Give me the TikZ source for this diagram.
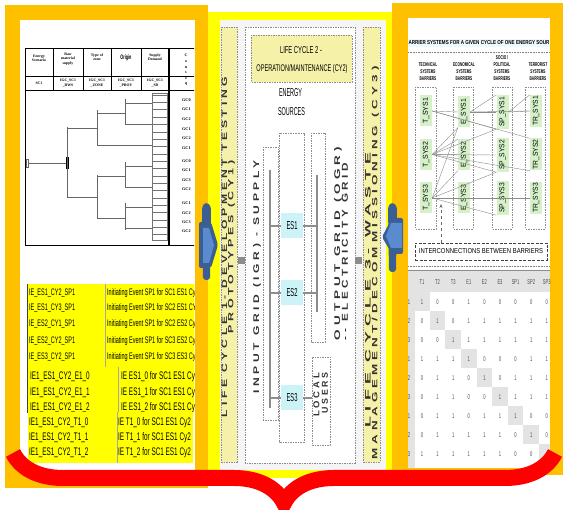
\documentclass[tikz,border=0pt]{standalone}
\usepackage{fontspec}
\setmainfont{Liberation Serif}
\setsansfont{Liberation Sans}
\newfontfamily\narrowfont[FakeStretch=0.58]{Liberation Sans}
\newfontfamily\spacedfont[LetterSpace=30]{Liberation Sans}
\usepackage{graphicx}
\usetikzlibrary{calc,positioning,arrows.meta,decorations.pathreplacing}

\definecolor{frameorange}{HTML}{FFC000}
\definecolor{frameyellow}{HTML}{FFFF00}
\definecolor{bracered}{HTML}{FF0000}
\definecolor{arrowdark}{HTML}{3B5F95}
\definecolor{arrowlight}{HTML}{5A8BCF}
\definecolor{stripyellow}{HTML}{F6F1A8}
\definecolor{escyan}{HTML}{CCF3F8}
\definecolor{barriergreen}{HTML}{D6F1CA}
\definecolor{cellgray}{HTML}{E3E3E3}

\newcommand{\fitlabel}[3]{\resizebox{#1}{#2}{#3}}

\begin{document}
\begin{tikzpicture}[x=1pt,y=-1pt,
    dashbox/.style={draw=black!45, dash pattern=on 1.5pt off 1pt, line width=0.5pt},
    stripbox/.style={dashbox, fill=stripyellow},
    gridline/.style={draw=black!45, line width=1.6pt},
    treeline/.style={draw=black!60, line width=0.7pt},
    headtext/.style={inner sep=0pt, align=center, font=\bfseries\fontsize{3.8}{4.3}\selectfont},
    tabsmall/.style={inner sep=0pt, anchor=west, font=\narrowfont\fontsize{9.5}{10}\selectfont},
    tabbig/.style={inner sep=0pt, anchor=west, font=\narrowfont\fontsize{11}{12}\selectfont},
    esbox/.style={fill=escyan, minimum width=22pt, minimum height=25pt, inner sep=0pt},
    sysbox/.style={fill=barriergreen, minimum width=12pt, minimum height=31pt, inner sep=0pt},
    colhead/.style={inner sep=0pt, align=center, font=\narrowfont\bfseries\fontsize{5.5}{7}\selectfont},
    barlink/.style={draw=black!45, line width=0.4pt},
    cellnum/.style={inner sep=0pt, font=\narrowfont\fontsize{7}{7}\selectfont, text=black!70},
  ]
  \useasboundingbox (0,0) rectangle (563,510);

  % panels
  \fill[frameorange] (5,5) rectangle (208,488);
  \fill[white] (20,20) rectangle (195,470);
  \fill[frameyellow] (208,12) rectangle (392,478);
  \fill[black!4] (220,20) rectangle (386,470);
  \fill[frameorange] (392,3) rectangle (563,475);
  \fill[white] (408,18) rectangle (550,468);

  % left panel: scenario tree and initiating events
  \begin{scope}
    \clip (20,20) rectangle (194,470);
    \draw[line width=0.9pt] (25,48) rectangle (205,245);
    \draw[line width=0.9pt] (25,90) -- (205,90);
    \draw[line width=0.4pt] (25,76) -- (205,76);
    \foreach \x in {53,83,111,141} \draw[line width=0.4pt] (\x,48) -- (\x,90);
    \draw[line width=1.3pt] (169,48) -- (169,245);

    \node[headtext] (h1) at (39,58) {Energy\\Scenario};
    \node[headtext] (h2) at (68,59) {Raw\\material\\supply};
    \node[headtext] (h3) at (97,57) {Type of\\zone};
    \node[inner sep=0pt, font=\narrowfont\bfseries\fontsize{6.5}{7}\selectfont] (h4) at (126,58) {Origin};
    \node[headtext] (h5) at (155,57) {Supply\\Demand};
    \node[inner sep=0pt, align=center, font=\bfseries\fontsize{4}{5.6}\selectfont] (h6) at (186,70) {C\\o\\n\\s\\e\\q};
    \node[headtext] (c1) at (39,83) {SC1};
    \node[headtext] (c2) at (68,83) {IGC\_SC1\\\_RWS};
    \node[headtext] (c3) at (97,83) {IGC\_SC1\\\_ZONE};
    \node[headtext] (c4) at (126,83) {IGC\_SC1\\\_PROV};
    \node[headtext] (c5) at (155,83) {IGC\_SC1\\\_SD};

    % tree
    \draw[treeline] (26,159) rectangle (28,167);
    \draw[treeline] (28,163) -- (66,163);
    \fill (66,157) rectangle (69,169);
    \draw[treeline] (67,127) -- (67,197);
    \draw[treeline] (67,128) -- (97,128);
    \draw[treeline] (67,197) -- (97,197);
    \draw[treeline] (97,110) -- (97,145);
    \draw[treeline] (97,175) -- (97,218);
    \draw[treeline] (97,113) -- (125,113);
    \draw[treeline] (97,145) -- (152,145);
    \draw[treeline] (97,176) -- (125,176);
    \draw[treeline] (97,218) -- (125,218);
    \foreach \ya/\yb in {99/125,162/188,203/230} \draw[treeline] (125,\ya) -- (125,\yb);
    \foreach \y in {103,124,166,187,207,228} \draw[treeline] (125,\y) -- (152,\y);
    \draw[black!55, line width=0.5pt] (152,93) rectangle (167,240);
    \foreach \i in {0,...,19} \draw[black!55, line width=0.4pt] (152,{95+7.35*\i}) -- (167,{95+7.35*\i});
    \foreach \g/\y [count=\k] in {GC0/100,GC1/109,GC2/119,GC1/129,GC2/138,GC1/148,GC0/161,GC1/170,GC3/180,GC2/189,GC1/203,GC2/213,GC3/222,GC2/231}
      \node[inner sep=0pt, anchor=west, font=\bfseries\fontsize{4.2}{5}\selectfont] (gc\k) at (182,\y) {\g};

    % initiating event tables
    \fill[frameyellow] (27,284) rectangle (200,367);
    \draw[black!35] (105,284) -- (105,367);
    \draw[black!75, line width=0.7pt] (27,284) -- (27,367);
    \foreach \a/\b/\y [count=\k] in {IE\_ES1\_CY2\_SP1/Initiating Event SP1 for SC1 ES1 Cy2/293,
        IE\_ES1\_CY3\_SP1/Initiating Event SP1 for SC2 ES1 CY3/308,
        IE\_ES2\_CY1\_SP1/Initiating Event SP1 for SC2 ES2 Cy1/324,
        IE\_ES2\_CY2\_SP1/Initiating Event SP1 for SC3 ES2 Cy2/341,
        IE\_ES3\_CY2\_SP1/Initiating Event SP1 for SC3 ES3 Cy2/357} {
      \node[tabsmall] (spa\k) at (29,\y) {\a};
      \node[tabsmall] (spb\k) at (107,\y) {\b};
    }
    \fill[frameyellow] (27,367) rectangle (200,413);
    \draw[black!35] (118,367) -- (118,413);
    \draw[black!75, line width=0.7pt] (27,367) -- (27,413);
    \foreach \n [count=\k] in {0,1,2} {
      \node[tabbig] (ea\k) at (30,{377+15.5*(\k-1)}) {IE1\_ES1\_CY2\_E1\_\n};
      \node[tabbig] (eb\k) at (121,{377+15.5*(\k-1)}) {IE ES1\_\n\ for SC1 ES1 Cy2};
    }
    \fill[frameyellow] (28,412) rectangle (193,463);
    \draw[black!35] (117,412) -- (117,463);
    \foreach \n [count=\k] in {0,1,2} {
      \node[tabbig] (ta\k) at (29,{423+15*(\k-1)}) {IE1\_ES1\_CY2\_T1\_\n};
      \node[tabbig] (tb\k) at (118,{423+15*(\k-1)}) {IE T1\_\n\ for SC1 ES1 Cy2};
    }
  \end{scope}

  % middle panel: life cycles
  \draw[stripbox] (221,27) rectangle (237,462);
  \draw[stripbox] (363,27) rectangle (380,462);
  \draw[dashbox, fill=white] (245,27) rectangle (355,463);
  \draw[stripbox] (251,35) rectangle (352,82);
  \node[inner sep=0pt] (cy2a) at (301,50) {\fitlabel{42pt}{7pt}{\narrowfont LIFE CYCLE 2 -}};
  \node[inner sep=0pt] (cy2b) at (302,69) {\fitlabel{91pt}{7pt}{\narrowfont OPERATION/MAINTENANCE (CY2)}};
  \node[inner sep=0pt] (energy) at (290.5,93) {\fitlabel{23pt}{8pt}{\narrowfont ENERGY}};
  \node[inner sep=0pt] (sources) at (291.5,112) {\fitlabel{27pt}{8pt}{\narrowfont SOURCES}};

  \node[rotate=90, inner sep=0pt, text=black!80] (cy1a) at (224.5,247) {\fitlabel{340pt}{5.5pt}{\spacedfont\bfseries LIFE CYCLE 1- DEVELOPMENT TESTING}};
  \node[rotate=90, inner sep=0pt, text=black!80] (cy1b) at (231.5,247) {\fitlabel{173pt}{5.5pt}{\spacedfont\bfseries PROTOTYPES (CY1)}};
  \node[rotate=90, inner sep=0pt, text=black!80] (cy3a) at (368,290) {\fitlabel{275pt}{5.5pt}{\spacedfont\bfseries LIFE CYCLE 3- WASTE}};
  \node[rotate=90, inner sep=0pt, text=black!80] (cy3b) at (375.5,263) {\fitlabel{393pt}{5.5pt}{\spacedfont\bfseries MANAGEMENT/DECOMMISSIONING (CY3)}};

  \draw[dashbox] (263,147) rectangle (278,420);
  \draw[dashbox] (279,133) rectangle (304,442);
  \draw[dashbox] (311,133) rectangle (325,342);
  \node[dashbox, minimum width=18pt, minimum height=88pt, inner sep=0pt] (users) at (321,401) {};

  \node[rotate=90, inner sep=0pt, text=black!80] (igr) at (257,277) {\fitlabel{233pt}{6pt}{\spacedfont\bfseries INPUT GRID (IGR) - SUPPLY}};
  \node[rotate=90, inner sep=0pt, text=black!80] (ogr1) at (338,243.5) {\fitlabel{193pt}{6pt}{\spacedfont\bfseries OUTPUT GRID (OGR)}};
  \node[rotate=90, inner sep=0pt, text=black!80] (ogr2) at (345,251.5) {\fitlabel{177pt}{6pt}{\spacedfont\bfseries -- ELECTRICITY GRID}};
  \node[rotate=90, inner sep=0pt, text=black!80] (loc1) at (316.5,395) {\fitlabel{44pt}{6pt}{\spacedfont\bfseries LOCAL}};
  \node[rotate=90, inner sep=0pt, text=black!80] (loc2) at (325,393) {\fitlabel{41pt}{6pt}{\spacedfont\bfseries USERS}};

  \node[esbox] (es1) at (292,226) {\fitlabel{11pt}{8pt}{\narrowfont ES1}};
  \node[esbox] (es2) at (292,293) {\fitlabel{11pt}{8pt}{\narrowfont ES2}};
  \node[esbox] (es3) at (292,398) {\fitlabel{11pt}{8pt}{\narrowfont ES3}};

  \coordinate (igr top) at (270,170);
  \coordinate (igr bot) at (270,408);
  \coordinate (ogr top) at (317,175);
  \coordinate (ogr bot) at (317,312);
  \draw[gridline] (igr top) -- (igr bot);
  \draw[gridline] (ogr top) -- (ogr bot);
  \foreach \e in {es1,es2,es3} \draw[gridline] (\e.west -| igr top) -- (\e.west);
  \draw[gridline] (es1.east) -- (es1.east -| ogr top);
  \draw[gridline] (es2.east) -- (es2.east -| ogr top);
  \draw[gridline] (es3.east) -- (es3.east -| users.west);

  \fill[black!45] (238,257) rectangle (245,264);
  \fill[black!45] (355,257) rectangle (362,264);

  % blue arrows
  \fill[arrowdark, rounded corners=3pt] (202,206) -- (206,202) -- (211,206) -- (210,280) -- (203,280) -- cycle;
  \fill[arrowdark, rounded corners=2pt] (199,222) -- (211,222) -- (218,245) -- (211,268) -- (199,268) -- cycle;
  \fill[arrowlight] (203,228) -- (209,228) -- (214,245) -- (209,263) -- (203,263) -- cycle;
  \fill[arrowdark, rounded corners=3pt] (388,206) -- (392,202) -- (397,206) -- (396,272) -- (389,272) -- cycle;
  \fill[arrowdark, rounded corners=2pt] (403,218) -- (392,218) -- (382,237) -- (392,254) -- (403,254) -- cycle;
  \fill[arrowlight] (402,223) -- (391,223) -- (386,236) -- (391,248) -- (402,248) -- cycle;

  % right panel: barrier systems and interconnection matrix
  \begin{scope}
    \clip (408,18) rectangle (550,468);
    \fill[cyan!7] (408,39) rectangle (550,47);
    \node[inner sep=0pt] (barhead) at (479,43) {\fitlabel{141pt}{4pt}{\sffamily\bfseries ARRIER SYSTEMS FOR A GIVEN CYCLE OF ONE ENERGY SOUR}};
    \draw[black!50, dash pattern=on 0.8pt off 0.8pt] (408,52) -- (550,52);

    \node[colhead] (tech) at (428,72) {TECHNICAL\\SYSTEMS\\BARRIERS};
    \node[colhead] (econ) at (464,72) {ECONOMICAL\\SYSTEMS\\BARRIERS};
    \node[colhead] (soc) at (502,68.5) {SOCIO /\\POLITICAL\\SYSTEMS\\BARRIERS};
    \node[colhead] (terr) at (538,72) {TERRORIST\\SYSTEMS\\BARRIERS};

    \draw[dashbox] (415,87) rectangle (436,229);
    \draw[dashbox] (453,87) rectangle (473,229);
    \draw[dashbox] (492,87) rectangle (512,229);
    \draw[dashbox] (525,87) rectangle (545,229);

    \foreach \n [count=\k] in {1,2,3} {
      \node[sysbox] (tsys\n) at (426,{111+43.5*(\k-1)}) {\rotatebox{90}{\fitlabel{26pt}{5pt}{\narrowfont T\_SYS\n}}};
      \node[sysbox] (esys\n) at (464,{112+43*(\k-1)}) {\rotatebox{90}{\fitlabel{26pt}{5pt}{\narrowfont E\_SYS\n}}};
      \node[sysbox, minimum height=34pt] (spsys\n) at (502.5,{112+43*(\k-1)}) {\rotatebox{90}{\fitlabel{30pt}{5pt}{\narrowfont SP\_SYS\n}}};
      \node[sysbox, minimum height=32pt] (trsys\n) at (536,{111+43.5*(\k-1)}) {\rotatebox{90}{\fitlabel{30pt}{5pt}{\narrowfont TR\_SYS\n}}};
    }
    \draw[barlink] (tsys1.east) -- (spsys1.south west);
    \draw[barlink] (tsys1.east) -- (trsys2.north west);
    \draw[barlink] (tsys1.east) -- (esys1.west);
    \draw[barlink] (esys1.east) -- (spsys1.north west);
    \draw[barlink] (esys1.east) -- (trsys1.west);
    \draw[barlink] (esys1.east) -- (spsys1.west);
    \draw[barlink] (spsys1.east) -- (trsys1.north west);
    \draw[barlink] (spsys1.east) -- (trsys1.west);
    \draw[barlink] (tsys2.east) -- (esys1.south west);
    \draw[barlink] (tsys2.east) -- (spsys1.south west);
    \draw[barlink] (tsys2.east) -- (esys2.north west);
    \draw[barlink] (tsys2.east) -- (esys2.west);
    \draw[barlink] (tsys2.east) -- (spsys2.west);
    \draw[barlink] (tsys2.east) -- (spsys2.south west);
    \draw[barlink] (tsys2.east) -- (trsys2.south west);
    \draw[barlink] (tsys3.east) -- (esys1.south west);
    \draw[barlink] (tsys3.east) -- (esys2.south west);
    \draw[barlink] (tsys3.east) -- (spsys2.south west);
    \draw[barlink] (tsys3.east) -- (esys3.west);
    \draw[barlink] (tsys3.east) -- (trsys3.west);
    \draw[barlink] (tsys3.east) -- (spsys3.west);
    \draw[barlink] (tsys3.east) -- (spsys3.south west);

    \node[draw=black!75, dash pattern=on 3pt off 1.5pt, line width=0.9pt, minimum width=132pt, minimum height=17pt, inner sep=0pt] (intercon) at (481,251.5) {\fitlabel{124pt}{5pt}{\narrowfont INTERCONNECTIONS BETWEEN BARRIERS}};
    \coordinate (ictip) at (441,204);
    \draw[black!60, dashed, line width=0.6pt, -{Stealth[length=4pt,width=3pt]}] (ictip |- intercon.north) -- (ictip);
    \draw[black!50, dash pattern=on 0.8pt off 0.8pt] (408,266) -- (550,266);
    \draw[black!45, line width=0.7pt] (408,270) -- (550,270);

    % interconnection matrix
    \fill[cellgray] (408,271) rectangle (550,292);
    \fill[cellgray] (408,292) rectangle (414.5,468);
    \foreach \i in {1,...,9}
      \fill[cellgray] ({406.4+15.6*\i-7.8},{283+19*\i-9.5}) rectangle +(15.6,19);
    \foreach \h [count=\c] in {T1,T2,T3,E1,E2,E3,SP1,SP2,SP3}
      \node[cellnum] (col\c) at ({406.4+15.6*\c},282) {\h};
    \foreach \l [count=\r] in {1,2,3,1,2,3,1,2,3}
      \node[cellnum] (row\r) at (409,{283+19*\r}) {\l};
    \foreach \line [count=\r] in {{1,0,0,1,0,0,0,0,0},{0,1,0,1,1,1,1,1,1},{0,0,1,1,1,1,1,1,1},
        {1,1,1,1,0,0,0,1,1},{0,1,1,0,1,0,1,1,1},{0,1,1,0,0,1,1,1,1},
        {0,1,1,0,1,1,1,0,0},{0,1,1,1,1,1,0,1,0},{1,1,1,1,1,1,0,0}}
      \foreach \v [count=\c] in \line
        \node[cellnum] (m-\r-\c) at ({406.4+15.6*\c},{283+19*\r}) {\v};
  \end{scope}

  % brace
  \draw[bracered, line width=16pt, decorate, decoration={brace, mirror, amplitude=50pt}] (13,453) -- (555,453);
\end{tikzpicture}
\end{document}
